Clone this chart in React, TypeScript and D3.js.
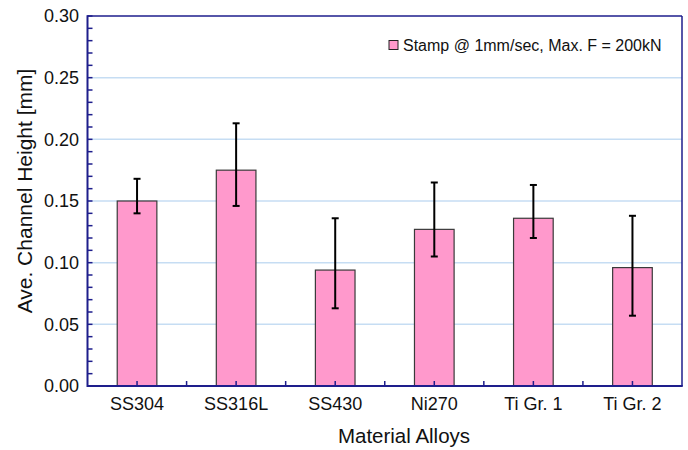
import React from "react";
import * as d3 from "d3";

const categories = ["SS304", "SS316L", "SS430", "Ni270", "Ti Gr. 1", "Ti Gr. 2"];
const heights = [0.150, 0.175, 0.094, 0.127, 0.136, 0.096];
const errLow = [0.140, 0.146, 0.063, 0.105, 0.120, 0.057];
const errHigh = [0.168, 0.213, 0.136, 0.165, 0.163, 0.138];
const yTicks = [0, 0.05, 0.1, 0.15, 0.2, 0.25, 0.3];
const legendLabel = "Stamp @ 1mm/sec, Max. F = 200kN";
const xTitle = "Material Alloys";
const yTitle = "Ave. Channel Height [mm]";

const W = 688, H = 450;
const M = { left: 87.5, right: 682, top: 16, bottom: 386 };
const FONT = "'Liberation Sans', Arial, sans-serif";
const AXIS = "#1e1e8c";

export default function App() {
  const x = d3.scaleBand<string>().domain(categories).range([M.left, M.right]).paddingInner(0.6).paddingOuter(0.3);
  const xPoint = d3.scalePoint<string>().domain(categories).range([M.left, M.right]).padding(0.5);
  const step = (M.right - M.left) / categories.length;
  const y = d3.scaleLinear().domain([0, 0.3]).range([M.bottom, M.top]);
  const minor = d3.range(0, 0.3001, 0.01);
  const bw = step * 0.4;

  return (
    <svg width={W} height={H} style={{ position: "absolute", left: 0, top: 0, background: "#fff" }} fontFamily={FONT}>
      {/* grid */}
      {yTicks.slice(1, -1).map((t) => (
        <line key={"g" + t} x1={M.left} x2={M.right} y1={y(t)} y2={y(t)} stroke="#c6ddf3" strokeWidth={1.5} />
      ))}
      {/* bars */}
      {categories.map((c, i) => {
        const cx = xPoint(c)!;
        return (
          <rect key={"b" + c} x={cx - bw / 2} y={y(heights[i])} width={bw} height={y(0) - y(heights[i])}
            fill="#ff99cc" stroke="#3a3a3a" strokeWidth={1.2} />
        );
      })}
      {/* error bars */}
      {categories.map((c, i) => {
        const cx = xPoint(c)!;
        return (
          <g key={"e" + c} stroke="#000" strokeWidth={2}>
            <line x1={cx} x2={cx} y1={y(errLow[i])} y2={y(errHigh[i])} />
            <line x1={cx - 3.5} x2={cx + 3.5} y1={y(errLow[i])} y2={y(errLow[i])} />
            <line x1={cx - 3.5} x2={cx + 3.5} y1={y(errHigh[i])} y2={y(errHigh[i])} />
          </g>
        );
      })}
      {/* y minor/major ticks */}
      {minor.map((t, i) => (
        <line key={"yt" + i} x1={M.left} x2={M.left + 5} y1={y(t)} y2={y(t)} stroke={AXIS} strokeWidth={1.5} />
      ))}
      {/* x ticks */}
      {categories.map((c, i) => {
        const cx = xPoint(c)!;
        return (
          <g key={"xt" + c} stroke={AXIS} strokeWidth={1.5}>
            <line x1={cx} x2={cx} y1={M.bottom} y2={M.bottom - 5} />
            {i > 0 && <line x1={cx - step / 2} x2={cx - step / 2} y1={M.bottom} y2={M.bottom - 5} />}
          </g>
        );
      })}
      {/* frame */}
      <line x1={M.left} x2={M.right} y1={M.top} y2={M.top} stroke={AXIS} strokeWidth={1.5} />
      <line x1={M.right} x2={M.right} y1={M.top} y2={M.bottom} stroke={AXIS} strokeWidth={1.5} />
      <line x1={M.left} x2={M.left} y1={M.top - 0.75} y2={M.bottom + 1} stroke={AXIS} strokeWidth={2} />
      <line x1={M.left} x2={M.right + 0.75} y1={M.bottom} y2={M.bottom} stroke={AXIS} strokeWidth={2} />
      {/* y tick labels */}
      {yTicks.map((t) => (
        <text key={"yl" + t} x={79} y={y(t)} dy="0.35em" textAnchor="end" fontSize={18} fill="#111">
          {t.toFixed(2)}
        </text>
      ))}
      {/* x tick labels */}
      {categories.map((c) => (
        <text key={"xl" + c} x={xPoint(c)!} y={410} textAnchor="middle" fontSize={18} fill="#111">{c}</text>
      ))}
      {/* titles */}
      <text x={404} y={443} textAnchor="middle" fontSize={20.5} fill="#111">{xTitle}</text>
      <text transform={`translate(32,191) rotate(-90)`} textAnchor="middle" fontSize={21} fill="#111">{yTitle}</text>
      {/* legend */}
      <rect x={389} y={40.5} width={9} height={9} fill="#ff99cc" stroke="#222" strokeWidth={1} />
      <text x={403} y={45} dy="0.35em" fontSize={16} fill="#111">{legendLabel}</text>
    </svg>
  );
}
